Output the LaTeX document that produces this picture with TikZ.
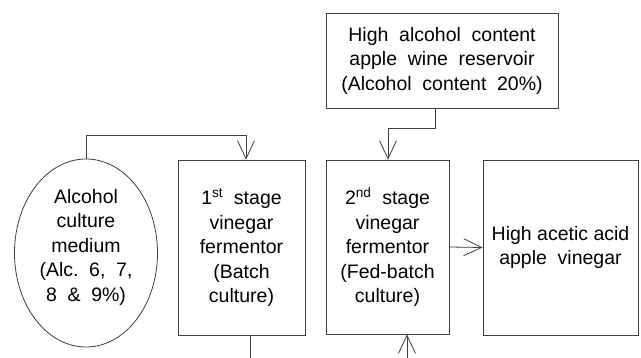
\documentclass[tikz,border=0pt]{standalone}
\usepackage{fontspec}
\setmainfont{Liberation Sans}
\usetikzlibrary{arrows.meta,shapes.geometric}
\newcommand\ws{\hspace{0.55em}}
\begin{document}
\begin{tikzpicture}[x=1pt,y=-1pt,
  ln/.style={draw=black!75,line width=0.8pt},
  arr/.style={ln,-{Straight Barb[length=18pt,width=17pt,line width=0.8pt]}},
  boxn/.style={ln,rectangle,inner sep=0pt,align=center,font=\fontsize{19.5}{24.5}\selectfont},
  txt/.style={inner sep=0pt,align=center,font=\fontsize{19.5}{24.5}\selectfont}]
\useasboundingbox (0,0) rectangle (641,358);
\fill[white] (0,0) rectangle (641,358);
\node[ln,ellipse,minimum width=143pt,minimum height=188pt,inner sep=0pt] (ell) at (86,253) {};
\node[txt] (elltxt) at (86,247) {Alcohol\\culture\\medium\\(Alc.\ws 6,\ws 7,\\8\ws \&\ws 9\%)};
\node[boxn,minimum width=127pt,minimum height=175pt] (b1) at (241.5,247.5)
  {1\textsuperscript{st}\ws stage\\vinegar\\fermentor\\(Batch\\culture)};
\node[boxn,minimum width=123pt,minimum height=174pt] (b2) at (387.5,247)
  {2\textsuperscript{nd}\ws stage\\vinegar\\fermentor\\(Fed-batch\\culture)};
\node[boxn,minimum width=155pt,minimum height=175pt] (b4) at (560.5,247.5)
  {High acetic acid\\apple\ws vinegar};
\node[boxn,minimum width=232pt,minimum height=95pt] (res) at (442,60.5)
  {High\ws alcohol\ws content\\apple\ws wine\ws reservoir\\(Alcohol\ws content\ws 20\%)};
\coordinate (e1) at (250,358);
\coordinate (e2) at (407,358);
\draw[arr] (ell.north) |- (246,135) -- (b1.north -| 246,0);
\draw[ln] (b1.south -| e1) -- (e1);
\draw[arr] (res.south -| 435,0) -- (435,128) -| (b2.north -| 388,0);
\draw[arr] (b2.east) -- (b4.west);
\draw[arr] (e2) -- (b2.south -| e2);
\end{tikzpicture}
\end{document}
